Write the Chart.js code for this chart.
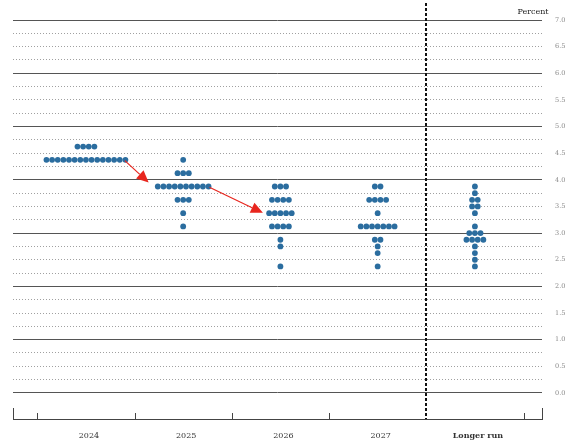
<!DOCTYPE html>
<html>
<head>
<meta charset="utf-8">
<script src="https://cdn.jsdelivr.net/npm/chart.js@4.4.1/dist/chart.umd.min.js"></script>
<style>
  html, body { margin: 0; padding: 0; background: #fff; }
  #wrap { width: 571px; height: 441px; }
</style>
</head>
<body>
<div id="wrap"><canvas id="dots"></canvas></div>
<script>
let categories = ['2024', '2025', '2026', '2027', 'Longer run'];

// midpoint of target range, and how many participants put a dot there
let rates2024 = [4.625, 4.375];
let counts2024 = [4, 15];
let rates2025 = [4.375, 4.125, 3.875, 3.625, 3.375, 3.125];
let counts2025 = [1, 3, 10, 3, 1, 1];
let rates2026 = [3.875, 3.625, 3.375, 3.125, 2.875, 2.75, 2.375];
let counts2026 = [3, 4, 5, 4, 1, 1, 1];
let rates2027 = [3.875, 3.625, 3.375, 3.125, 2.875, 2.75, 2.625, 2.375];
let counts2027 = [2, 4, 1, 7, 2, 1, 1, 1];
let ratesLonger = [3.875, 3.75, 3.625, 3.5, 3.375, 3.125, 3.0, 2.875, 2.75, 2.625, 2.5, 2.375];
let countsLonger = [1, 1, 2, 2, 1, 1, 3, 4, 1, 1, 1, 1];

// tick labels on the right and the finer grid steps
let percentLabels = [0, 0.5, 1, 1.5, 2, 2.5, 3, 3.5, 4, 4.5, 5, 5.5, 6, 6.5, 7];
let gridLevels = [0, 0.25, 0.5, 0.75, 1, 1.25, 1.5, 1.75, 2, 2.25, 2.5, 2.75, 3, 3.25, 3.5, 3.75,
                  4, 4.25, 4.5, 4.75, 5, 5.25, 5.5, 5.75, 6, 6.25, 6.5, 6.75, 7];

// red annotation arrows (in data units)
let arrowFrom = [[1.40, 4.36], [2.27, 3.86]];
let arrowTo = [[1.645, 3.95], [2.82, 3.38]];

let dotGap = 0.058; // horizontal spacing between dots sharing one level

function buildDots() {
  let all = [[rates2024, counts2024], [rates2025, counts2025], [rates2026, counts2026],
             [rates2027, counts2027], [ratesLonger, countsLonger]];
  let points = [];
  for (let k = 0; k < all.length; k++) {
    let rates = all[k][0], counts = all[k][1];
    for (let j = 0; j < rates.length; j++) {
      let n = counts[j];
      for (let i = 0; i < n; i++) {
        points.push({ x: k + 1 + (i - (n - 1) / 2) * dotGap, y: rates[j] });
      }
    }
  }
  return points;
}

let serif = 'DejaVu Serif';

let extras = {
  id: 'extras',
  afterDraw(chart) {
    let ctx = chart.ctx;
    let xs = chart.scales.x, ys = chart.scales.y;
    let area = chart.chartArea;
    ctx.save();

    // small upward ticks on the bottom axis
    ctx.strokeStyle = '#444';
    ctx.lineWidth = 1;
    [0.5, 1.5, 2.5, 3.5, 5.5].forEach(function(v) {
      let px = Math.round(xs.getPixelForValue(v)) + 0.5;
      ctx.beginPath();
      ctx.moveTo(px, area.bottom);
      ctx.lineTo(px, area.bottom - 6);
      ctx.stroke();
    });
    [area.left, area.right].forEach(function(px) {
      px = Math.round(px) + 0.5;
      ctx.beginPath();
      ctx.moveTo(px, area.bottom);
      ctx.lineTo(px, area.bottom - 11);
      ctx.stroke();
    });

    // dashed divider before "Longer run"
    let dx = Math.round(xs.getPixelForValue(4.5));
    ctx.strokeStyle = '#111';
    ctx.lineWidth = 2;
    ctx.setLineDash([3, 2]);
    ctx.beginPath();
    ctx.moveTo(dx, area.top);
    ctx.lineTo(dx, area.bottom);
    ctx.stroke();
    ctx.setLineDash([]);

    // arrows
    ctx.strokeStyle = '#e8261e';
    ctx.fillStyle = '#e8261e';
    for (let a = 0; a < arrowFrom.length; a++) {
      let x0 = xs.getPixelForValue(arrowFrom[a][0]), y0 = ys.getPixelForValue(arrowFrom[a][1]);
      let x1 = xs.getPixelForValue(arrowTo[a][0]), y1 = ys.getPixelForValue(arrowTo[a][1]);
      let ang = Math.atan2(y1 - y0, x1 - x0);
      let headLen = 12, headW = 5.5;
      let bx = x1 - headLen * Math.cos(ang), by = y1 - headLen * Math.sin(ang);
      ctx.lineWidth = 1.2;
      ctx.beginPath();
      ctx.moveTo(x0, y0);
      ctx.lineTo(bx, by);
      ctx.stroke();
      ctx.beginPath();
      ctx.moveTo(x1, y1);
      ctx.lineTo(bx + headW * Math.sin(ang), by - headW * Math.cos(ang));
      ctx.lineTo(bx - headW * Math.sin(ang), by + headW * Math.cos(ang));
      ctx.closePath();
      ctx.fill();
    }

    // unit label
    ctx.fillStyle = '#222';
    ctx.font = '8px "' + serif + '"';
    ctx.textAlign = 'center';
    ctx.textBaseline = 'middle';
    ctx.fillText('Percent', 533, 12);
    ctx.restore();
  }
};

let chart = new Chart(document.getElementById('dots'), {
  type: 'scatter',
  data: {
    datasets: [{
      data: buildDots(),
      backgroundColor: '#2b6d9f',
      borderWidth: 0,
      pointRadius: 2.9,
      pointHoverRadius: 2.9
    }]
  },
  options: {
    responsive: true,
    maintainAspectRatio: false,
    animation: false,
    layout: { padding: { left: 13, top: 3, right: 0, bottom: 0 } },
    plugins: { legend: { display: false }, tooltip: { enabled: false } },
    scales: {
      x: {
        type: 'linear',
        min: 0.25,
        max: 5.69,
        afterBuildTicks: function(axis) {
          axis.ticks = categories.map(function(c, i) { return { value: i + 1 }; });
        },
        ticks: {
          autoSkip: false,
          maxRotation: 0,
          padding: 12,
          labelOffset: 3,
          color: '#333',
          font: function(c) {
            let bold = c.tick && c.tick.value === 5;
            return { family: serif, size: 8, weight: bold ? 'bold' : 'normal' };
          },
          callback: function(v) { return categories[Math.round(v) - 1]; }
        },
        grid: { display: false, drawTicks: false },
        border: { display: true, color: '#444', width: 1 },
        afterFit: function(axis) {
          axis.height = 22;
          axis.paddingLeft = 0;
          axis.paddingRight = 0;
        }
      },
      y: {
        position: 'right',
        min: -0.49,
        max: 7.32,
        afterBuildTicks: function(axis) {
          axis.ticks = gridLevels.map(function(v) { return { value: v }; });
        },
        ticks: {
          autoSkip: false,
          padding: 13,
          color: '#888',
          font: { family: serif, size: 6.5 },
          callback: function(v) { return percentLabels.includes(v) ? v.toFixed(1) : ''; }
        },
        grid: {
          drawTicks: false,
          lineWidth: 1,
          color: function(c) {
            return c.tick && Number.isInteger(c.tick.value) ? '#555' : '#a0a0a0';
          }
        },
        border: {
          display: false,
          dash: function(c) {
            return c.tick && !Number.isInteger(c.tick.value) ? [1, 2] : [];
          }
        },
        afterFit: function(axis) {
          axis.width = 29;
          axis.paddingTop = 0;
          axis.paddingBottom = 0;
        }
      }
    }
  },
  plugins: [extras]
});
</script>
</body>
</html>
